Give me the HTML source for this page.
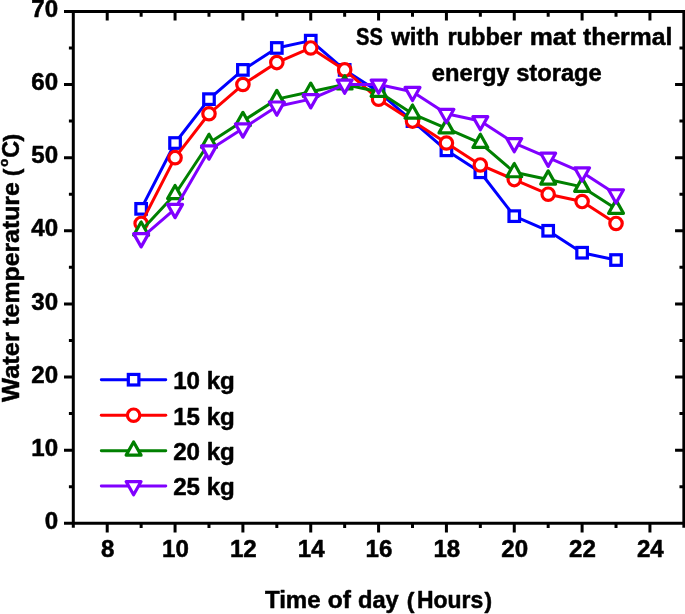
<!DOCTYPE html>
<html><head><meta charset="utf-8"><title>chart</title>
<style>html,body{margin:0;padding:0;background:#fff;}svg{display:block;}svg{will-change:transform;}text{font-family:"Liberation Sans",sans-serif;font-weight:bold;fill:#000;stroke:#000;stroke-width:0.5px;stroke-linejoin:round;}</style></head><body>
<svg width="685" height="614" viewBox="0 0 685 614">
<rect width="685" height="614" fill="#fff"/>
<polyline points="141.14,208.84 175.06,143.02 208.98,99.15 242.90,69.89 276.82,47.95 310.74,40.64 344.66,69.89 378.58,91.83 412.50,121.08 446.42,150.34 480.34,172.28 514.26,216.15 548.18,230.78 582.10,252.72 616.02,260.03" fill="none" stroke="#0000ff" stroke-width="3.0" stroke-linejoin="round"/>
<rect x="135.86" y="203.57" width="10.55" height="10.55" fill="#fff" stroke="#0000ff" stroke-width="3.2"/>
<rect x="169.78" y="137.75" width="10.55" height="10.55" fill="#fff" stroke="#0000ff" stroke-width="3.2"/>
<rect x="203.71" y="93.87" width="10.55" height="10.55" fill="#fff" stroke="#0000ff" stroke-width="3.2"/>
<rect x="237.63" y="64.62" width="10.55" height="10.55" fill="#fff" stroke="#0000ff" stroke-width="3.2"/>
<rect x="271.55" y="42.68" width="10.55" height="10.55" fill="#fff" stroke="#0000ff" stroke-width="3.2"/>
<rect x="305.47" y="35.37" width="10.55" height="10.55" fill="#fff" stroke="#0000ff" stroke-width="3.2"/>
<rect x="339.39" y="64.62" width="10.55" height="10.55" fill="#fff" stroke="#0000ff" stroke-width="3.2"/>
<rect x="373.31" y="86.56" width="10.55" height="10.55" fill="#fff" stroke="#0000ff" stroke-width="3.2"/>
<rect x="407.23" y="115.81" width="10.55" height="10.55" fill="#fff" stroke="#0000ff" stroke-width="3.2"/>
<rect x="441.15" y="145.06" width="10.55" height="10.55" fill="#fff" stroke="#0000ff" stroke-width="3.2"/>
<rect x="475.07" y="167.00" width="10.55" height="10.55" fill="#fff" stroke="#0000ff" stroke-width="3.2"/>
<rect x="508.99" y="210.88" width="10.55" height="10.55" fill="#fff" stroke="#0000ff" stroke-width="3.2"/>
<rect x="542.90" y="225.50" width="10.55" height="10.55" fill="#fff" stroke="#0000ff" stroke-width="3.2"/>
<rect x="576.83" y="247.44" width="10.55" height="10.55" fill="#fff" stroke="#0000ff" stroke-width="3.2"/>
<rect x="610.75" y="254.76" width="10.55" height="10.55" fill="#fff" stroke="#0000ff" stroke-width="3.2"/>
<polyline points="141.14,223.47 175.06,157.65 208.98,113.77 242.90,84.52 276.82,62.58 310.74,47.95 344.66,69.89 378.58,99.15 412.50,121.08 446.42,143.02 480.34,164.96 514.26,179.59 548.18,194.21 582.10,201.53 616.02,223.47" fill="none" stroke="#ff0000" stroke-width="3.0" stroke-linejoin="round"/>
<circle cx="141.14" cy="223.47" r="6.20" fill="#fff" stroke="#ff0000" stroke-width="3.2"/>
<circle cx="175.06" cy="157.65" r="6.20" fill="#fff" stroke="#ff0000" stroke-width="3.2"/>
<circle cx="208.98" cy="113.77" r="6.20" fill="#fff" stroke="#ff0000" stroke-width="3.2"/>
<circle cx="242.90" cy="84.52" r="6.20" fill="#fff" stroke="#ff0000" stroke-width="3.2"/>
<circle cx="276.82" cy="62.58" r="6.20" fill="#fff" stroke="#ff0000" stroke-width="3.2"/>
<circle cx="310.74" cy="47.95" r="6.20" fill="#fff" stroke="#ff0000" stroke-width="3.2"/>
<circle cx="344.66" cy="69.89" r="6.20" fill="#fff" stroke="#ff0000" stroke-width="3.2"/>
<circle cx="378.58" cy="99.15" r="6.20" fill="#fff" stroke="#ff0000" stroke-width="3.2"/>
<circle cx="412.50" cy="121.08" r="6.20" fill="#fff" stroke="#ff0000" stroke-width="3.2"/>
<circle cx="446.42" cy="143.02" r="6.20" fill="#fff" stroke="#ff0000" stroke-width="3.2"/>
<circle cx="480.34" cy="164.96" r="6.20" fill="#fff" stroke="#ff0000" stroke-width="3.2"/>
<circle cx="514.26" cy="179.59" r="6.20" fill="#fff" stroke="#ff0000" stroke-width="3.2"/>
<circle cx="548.18" cy="194.21" r="6.20" fill="#fff" stroke="#ff0000" stroke-width="3.2"/>
<circle cx="582.10" cy="201.53" r="6.20" fill="#fff" stroke="#ff0000" stroke-width="3.2"/>
<circle cx="616.02" cy="223.47" r="6.20" fill="#fff" stroke="#ff0000" stroke-width="3.2"/>
<polyline points="141.14,230.78 175.06,194.21 208.98,143.02 242.90,121.08 276.82,99.15 310.74,91.83 344.66,84.52 378.58,91.83 412.50,113.77 446.42,128.40 480.34,143.02 514.26,172.28 548.18,179.59 582.10,186.90 616.02,208.84" fill="none" stroke="#008000" stroke-width="3.0" stroke-linejoin="round"/>
<path d="M133.69 235.23L148.59 235.23L141.14 222.03Z" fill="#fff" stroke="#008000" stroke-width="3.2" stroke-linejoin="round"/>
<path d="M167.61 198.66L182.51 198.66L175.06 185.46Z" fill="#fff" stroke="#008000" stroke-width="3.2" stroke-linejoin="round"/>
<path d="M201.53 147.47L216.43 147.47L208.98 134.27Z" fill="#fff" stroke="#008000" stroke-width="3.2" stroke-linejoin="round"/>
<path d="M235.45 125.53L250.35 125.53L242.90 112.33Z" fill="#fff" stroke="#008000" stroke-width="3.2" stroke-linejoin="round"/>
<path d="M269.37 103.60L284.27 103.60L276.82 90.40Z" fill="#fff" stroke="#008000" stroke-width="3.2" stroke-linejoin="round"/>
<path d="M303.29 96.28L318.19 96.28L310.74 83.08Z" fill="#fff" stroke="#008000" stroke-width="3.2" stroke-linejoin="round"/>
<path d="M337.21 88.97L352.11 88.97L344.66 75.77Z" fill="#fff" stroke="#008000" stroke-width="3.2" stroke-linejoin="round"/>
<path d="M371.13 96.28L386.03 96.28L378.58 83.08Z" fill="#fff" stroke="#008000" stroke-width="3.2" stroke-linejoin="round"/>
<path d="M405.05 118.22L419.95 118.22L412.50 105.02Z" fill="#fff" stroke="#008000" stroke-width="3.2" stroke-linejoin="round"/>
<path d="M438.97 132.85L453.87 132.85L446.42 119.65Z" fill="#fff" stroke="#008000" stroke-width="3.2" stroke-linejoin="round"/>
<path d="M472.89 147.47L487.79 147.47L480.34 134.27Z" fill="#fff" stroke="#008000" stroke-width="3.2" stroke-linejoin="round"/>
<path d="M506.81 176.73L521.71 176.73L514.26 163.53Z" fill="#fff" stroke="#008000" stroke-width="3.2" stroke-linejoin="round"/>
<path d="M540.73 184.04L555.63 184.04L548.18 170.84Z" fill="#fff" stroke="#008000" stroke-width="3.2" stroke-linejoin="round"/>
<path d="M574.65 191.35L589.55 191.35L582.10 178.15Z" fill="#fff" stroke="#008000" stroke-width="3.2" stroke-linejoin="round"/>
<path d="M608.57 213.29L623.47 213.29L616.02 200.09Z" fill="#fff" stroke="#008000" stroke-width="3.2" stroke-linejoin="round"/>
<polyline points="141.14,238.09 175.06,208.84 208.98,150.34 242.90,128.40 276.82,106.46 310.74,99.15 344.66,84.52 378.58,84.52 412.50,91.83 446.42,113.77 480.34,121.08 514.26,143.02 548.18,157.65 582.10,172.28 616.02,194.21" fill="none" stroke="#8000ff" stroke-width="3.0" stroke-linejoin="round"/>
<path d="M133.69 233.64L148.59 233.64L141.14 246.84Z" fill="#fff" stroke="#8000ff" stroke-width="3.2" stroke-linejoin="round"/>
<path d="M167.61 204.39L182.51 204.39L175.06 217.59Z" fill="#fff" stroke="#8000ff" stroke-width="3.2" stroke-linejoin="round"/>
<path d="M201.53 145.89L216.43 145.89L208.98 159.09Z" fill="#fff" stroke="#8000ff" stroke-width="3.2" stroke-linejoin="round"/>
<path d="M235.45 123.95L250.35 123.95L242.90 137.15Z" fill="#fff" stroke="#8000ff" stroke-width="3.2" stroke-linejoin="round"/>
<path d="M269.37 102.01L284.27 102.01L276.82 115.21Z" fill="#fff" stroke="#8000ff" stroke-width="3.2" stroke-linejoin="round"/>
<path d="M303.29 94.70L318.19 94.70L310.74 107.90Z" fill="#fff" stroke="#8000ff" stroke-width="3.2" stroke-linejoin="round"/>
<path d="M337.21 80.07L352.11 80.07L344.66 93.27Z" fill="#fff" stroke="#8000ff" stroke-width="3.2" stroke-linejoin="round"/>
<path d="M371.13 80.07L386.03 80.07L378.58 93.27Z" fill="#fff" stroke="#8000ff" stroke-width="3.2" stroke-linejoin="round"/>
<path d="M405.05 87.38L419.95 87.38L412.50 100.58Z" fill="#fff" stroke="#8000ff" stroke-width="3.2" stroke-linejoin="round"/>
<path d="M438.97 109.32L453.87 109.32L446.42 122.52Z" fill="#fff" stroke="#8000ff" stroke-width="3.2" stroke-linejoin="round"/>
<path d="M472.89 116.63L487.79 116.63L480.34 129.83Z" fill="#fff" stroke="#8000ff" stroke-width="3.2" stroke-linejoin="round"/>
<path d="M506.81 138.57L521.71 138.57L514.26 151.77Z" fill="#fff" stroke="#8000ff" stroke-width="3.2" stroke-linejoin="round"/>
<path d="M540.73 153.20L555.63 153.20L548.18 166.40Z" fill="#fff" stroke="#8000ff" stroke-width="3.2" stroke-linejoin="round"/>
<path d="M574.65 167.83L589.55 167.83L582.10 181.03Z" fill="#fff" stroke="#8000ff" stroke-width="3.2" stroke-linejoin="round"/>
<path d="M608.57 189.76L623.47 189.76L616.02 202.96Z" fill="#fff" stroke="#8000ff" stroke-width="3.2" stroke-linejoin="round"/>
<g stroke="#000" stroke-width="3.0" fill="none" stroke-linecap="butt">
<path d="M64.00 11.39H685.36"/>
<path d="M64.00 523.30H685.36"/>
<path d="M73.30 9.89V527.80"/>
<path d="M683.86 9.89V527.80"/>
<path d="M107.22 523.30v9.1M107.22 11.39v9.0M141.14 523.30v4.8M141.14 11.39v5.3M175.06 523.30v9.1M175.06 11.39v9.0M208.98 523.30v4.8M208.98 11.39v5.3M242.90 523.30v9.1M242.90 11.39v9.0M276.82 523.30v4.8M276.82 11.39v5.3M310.74 523.30v9.1M310.74 11.39v9.0M344.66 523.30v4.8M344.66 11.39v5.3M378.58 523.30v9.1M378.58 11.39v9.0M412.50 523.30v4.8M412.50 11.39v5.3M446.42 523.30v9.1M446.42 11.39v9.0M480.34 523.30v4.8M480.34 11.39v5.3M514.26 523.30v9.1M514.26 11.39v9.0M548.18 523.30v4.8M548.18 11.39v5.3M582.10 523.30v9.1M582.10 11.39v9.0M616.02 523.30v4.8M616.02 11.39v5.3M649.94 523.30v9.1M649.94 11.39v9.0M73.30 486.73h-4.4M683.86 486.73h-4.4M73.30 450.17h-9.3M683.86 450.17h-8.8M73.30 413.60h-4.4M683.86 413.60h-4.4M73.30 377.04h-9.3M683.86 377.04h-8.8M73.30 340.47h-4.4M683.86 340.47h-4.4M73.30 303.91h-9.3M683.86 303.91h-8.8M73.30 267.34h-4.4M683.86 267.34h-4.4M73.30 230.78h-9.3M683.86 230.78h-8.8M73.30 194.21h-4.4M683.86 194.21h-4.4M73.30 157.65h-9.3M683.86 157.65h-8.8M73.30 121.08h-4.4M683.86 121.08h-4.4M73.30 84.52h-9.3M683.86 84.52h-8.8M73.30 47.95h-4.4M683.86 47.95h-4.4"/>
</g>
<text transform="translate(107.62 556.6) scale(1.04 1)" font-size="23.2" text-anchor="middle">8</text>
<text transform="translate(175.46 556.6) scale(1.04 1)" font-size="23.2" text-anchor="middle">10</text>
<text transform="translate(243.30 556.6) scale(1.04 1)" font-size="23.2" text-anchor="middle">12</text>
<text transform="translate(311.14 556.6) scale(1.04 1)" font-size="23.2" text-anchor="middle">14</text>
<text transform="translate(378.98 556.6) scale(1.04 1)" font-size="23.2" text-anchor="middle">16</text>
<text transform="translate(446.82 556.6) scale(1.04 1)" font-size="23.2" text-anchor="middle">18</text>
<text transform="translate(514.66 556.6) scale(1.04 1)" font-size="23.2" text-anchor="middle">20</text>
<text transform="translate(582.50 556.6) scale(1.04 1)" font-size="23.2" text-anchor="middle">22</text>
<text transform="translate(650.34 556.6) scale(1.04 1)" font-size="23.2" text-anchor="middle">24</text>
<text transform="translate(58.2 529.00) scale(1.04 1)" font-size="23.2" text-anchor="end">0</text>
<text transform="translate(58.2 455.87) scale(1.04 1)" font-size="23.2" text-anchor="end">10</text>
<text transform="translate(58.2 382.74) scale(1.04 1)" font-size="23.2" text-anchor="end">20</text>
<text transform="translate(58.2 309.61) scale(1.04 1)" font-size="23.2" text-anchor="end">30</text>
<text transform="translate(58.2 236.48) scale(1.04 1)" font-size="23.2" text-anchor="end">40</text>
<text transform="translate(58.2 163.35) scale(1.04 1)" font-size="23.2" text-anchor="end">50</text>
<text transform="translate(58.2 90.22) scale(1.04 1)" font-size="23.2" text-anchor="end">60</text>
<text transform="translate(58.2 17.09) scale(1.04 1)" font-size="23.2" text-anchor="end">70</text>
<text x="264.9" y="608.20" font-size="23.7" textLength="55.67" lengthAdjust="spacingAndGlyphs">Time</text>
<text x="327.79" y="608.20" font-size="23.7" textLength="23.2" lengthAdjust="spacingAndGlyphs">of</text>
<text x="357.96" y="608.20" font-size="23.7" textLength="40.82" lengthAdjust="spacingAndGlyphs">day</text>
<text x="406.86" y="607.50" font-size="21.5" textLength="7.67" lengthAdjust="spacingAndGlyphs">(</text>
<text x="416.93" y="608.20" font-size="23.7" textLength="66.25" lengthAdjust="spacingAndGlyphs">Hours</text>
<text x="484.49" y="607.50" font-size="21.5" textLength="7.56" lengthAdjust="spacingAndGlyphs">)</text>
<g transform="translate(19.3 502.0) rotate(-90)">
<text x="100.08" y="0" font-size="23.7" textLength="69.71" lengthAdjust="spacingAndGlyphs">Water</text>
<text x="176.36" y="0" font-size="23.7" textLength="143.47" lengthAdjust="spacingAndGlyphs">temperature</text>
<text x="325.8" y="-0.7" font-size="21.5" textLength="7.67" lengthAdjust="spacingAndGlyphs">(</text>
<text x="335.15" y="-10.9" font-size="13.5" textLength="8.0" lengthAdjust="spacingAndGlyphs">o</text>
<text x="344.34" y="0" font-size="23.7" textLength="16.9" lengthAdjust="spacingAndGlyphs">C</text>
<text x="360.4" y="-0.7" font-size="21.5" textLength="7.56" lengthAdjust="spacingAndGlyphs">)</text>
</g>
<text x="356.08" y="45.3" font-size="23.7" textLength="26.81" lengthAdjust="spacingAndGlyphs">SS</text>
<text x="391.15" y="45.3" font-size="23.7" textLength="48.16" lengthAdjust="spacingAndGlyphs">with</text>
<text x="447.43" y="45.3" font-size="23.7" textLength="74.68" lengthAdjust="spacingAndGlyphs">rubber</text>
<text x="529.72" y="45.3" font-size="23.7" textLength="46.14" lengthAdjust="spacingAndGlyphs">mat</text>
<text x="583.09" y="45.3" font-size="23.7" textLength="89.21" lengthAdjust="spacingAndGlyphs">thermal</text>
<text x="431.8" y="80.8" font-size="23.7" textLength="170" lengthAdjust="spacingAndGlyphs">energy storage</text>
<path d="M101.3 379.7H165.8" stroke="#0000ff" stroke-width="2.9" stroke-linecap="round" fill="none"/>
<rect x="128.32" y="374.43" width="10.55" height="10.55" fill="#fff" stroke="#0000ff" stroke-width="3.2"/>
<text x="173.2" y="389.10" font-size="23.2" textLength="61.6" lengthAdjust="spacingAndGlyphs">10 kg</text>
<path d="M101.3 415.2H165.8" stroke="#ff0000" stroke-width="2.9" stroke-linecap="round" fill="none"/>
<circle cx="133.60" cy="415.20" r="6.20" fill="#fff" stroke="#ff0000" stroke-width="3.2"/>
<text x="173.2" y="424.60" font-size="23.2" textLength="61.6" lengthAdjust="spacingAndGlyphs">15 kg</text>
<path d="M101.3 450.7H165.8" stroke="#008000" stroke-width="2.9" stroke-linecap="round" fill="none"/>
<path d="M126.15 455.15L141.05 455.15L133.60 441.95Z" fill="#fff" stroke="#008000" stroke-width="3.2" stroke-linejoin="round"/>
<text x="173.2" y="460.10" font-size="23.2" textLength="61.6" lengthAdjust="spacingAndGlyphs">20 kg</text>
<path d="M101.3 486.0H165.8" stroke="#8000ff" stroke-width="2.9" stroke-linecap="round" fill="none"/>
<path d="M126.15 481.55L141.05 481.55L133.60 494.75Z" fill="#fff" stroke="#8000ff" stroke-width="3.2" stroke-linejoin="round"/>
<text x="173.2" y="495.40" font-size="23.2" textLength="61.6" lengthAdjust="spacingAndGlyphs">25 kg</text>
</svg></body></html>
